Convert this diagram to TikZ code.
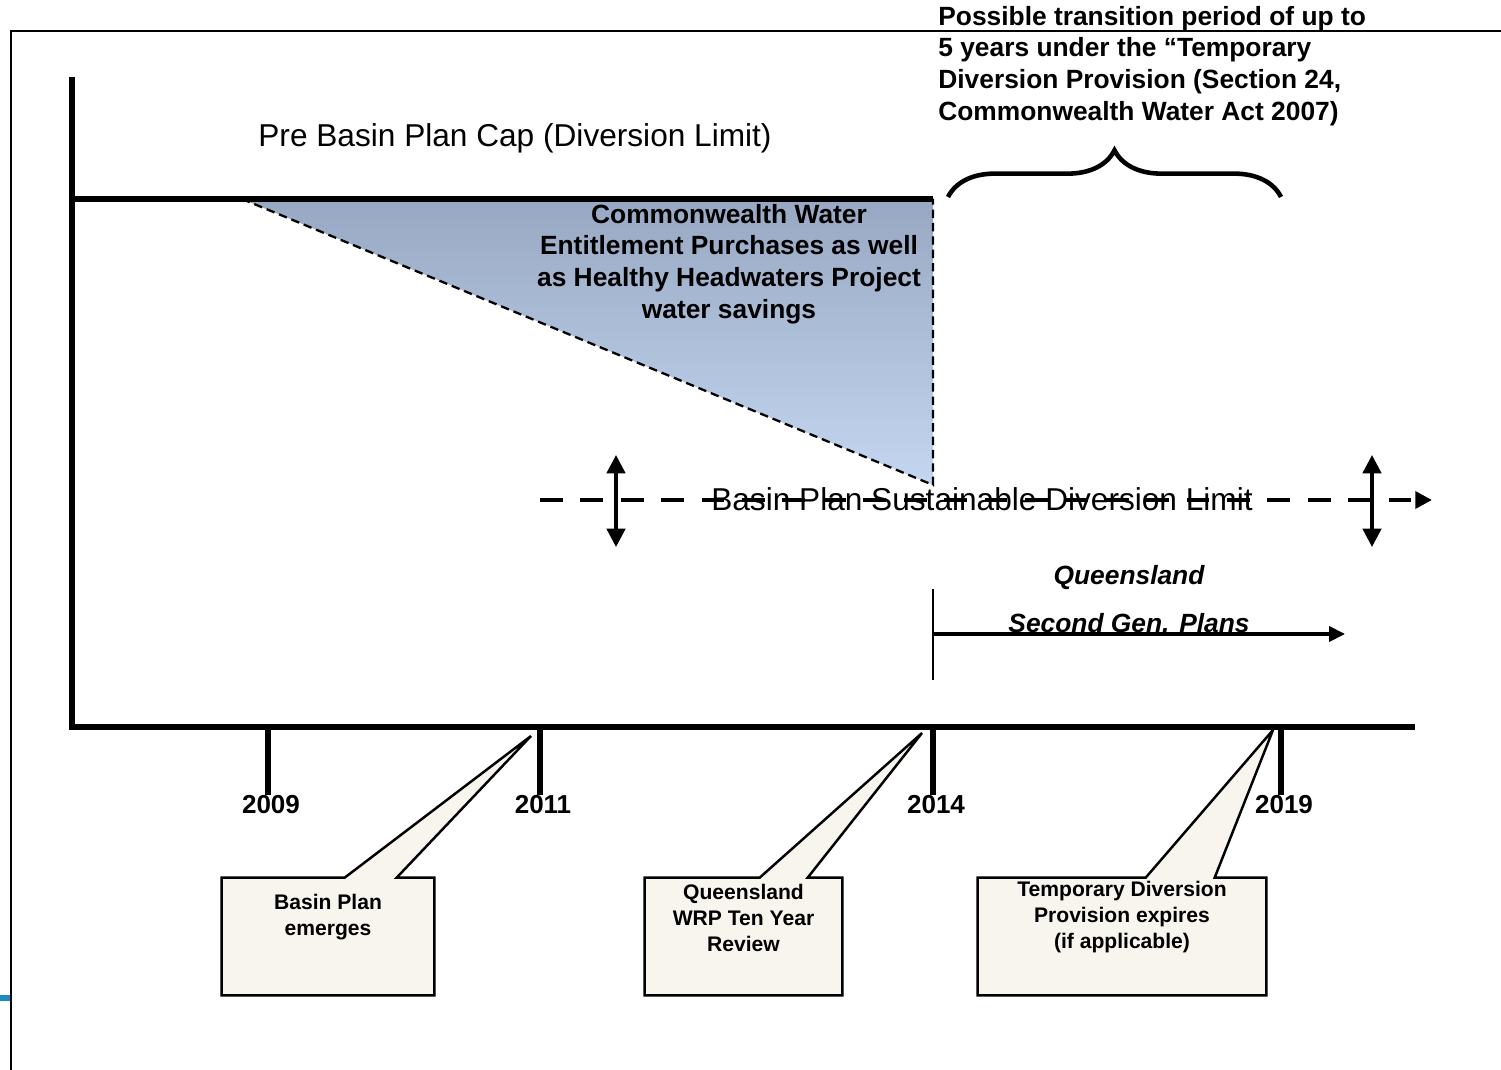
\documentclass[tikz,border=0pt]{standalone}
\usepackage{fontspec}
\setmainfont{Liberation Sans}
\definecolor{capgrey}{RGB}{152, 168, 195}
\definecolor{sdlblue}{RGB}{196, 214, 240}
\definecolor{notecream}{RGB}{247, 245, 237}
\definecolor{edgeblue}{RGB}{30, 140, 195}
\usepackage{tikz}
\usetikzlibrary{arrows.meta, positioning, calc, decorations.pathreplacing}

\begin{document}
\begin{tikzpicture}[x=0.02cm, y=-0.02cm,
    axisline/.style={line width=3.1pt},
    thinline/.style={line width=1.3pt},
    boldtext/.style={font=\bfseries\fontsize{15}{18.1}\selectfont, inner sep=0pt},
    qldtext/.style={font=\bfseries\itshape\fontsize{15}{18.1}\selectfont, inner sep=0pt, anchor=base},
    plaintext/.style={font=\fontsize{18}{22}\selectfont, inner sep=0pt},
    yearlabel/.style={font=\bfseries\fontsize{14.8}{17}\selectfont, inner sep=0pt, anchor=base},
    notebox/.style={minimum height=2.34cm, inner sep=0pt},
    noteline/.style={draw=black, line width=1.4pt, fill=notecream},
    notetext/.style={font=\bfseries\fontsize{12}{14.8}\selectfont, align=center, inner sep=0pt},
    updown/.style={line width=2pt, {Triangle[length=10.5pt,width=10.5pt]}-{Triangle[length=10.5pt,width=10.5pt]}}]
  \useasboundingbox (0,0) rectangle (1501,1070);

  % frame
  \draw[line width=1.1pt] (1501,31) -- (11,31) -- (11,1070);
  \fill[edgeblue] (0,995) rectangle (10,1001);

  % purchases wedge
  \coordinate (capstart) at (242,199);
  \coordinate (capend) at (933,199);
  \coordinate (sdlpoint) at (933,485);
  \shade[top color=capgrey, bottom color=sdlblue] (capstart) -- (capend) -- (sdlpoint) -- cycle;
  \draw[thinline, dash pattern=on 4.8pt off 2.8pt] (capstart) -- (sdlpoint) -- (capend);

  % axes
  \coordinate (origin) at (72,727);
  \draw[axisline] (72,77) -- (origin) -- (1415,727);
  \draw[axisline] (72,199) -- (capend);
  \foreach \yr/\xx in {2009/268, 2011/540, 2014/933, 2019/1281} {
    \coordinate (t\yr) at (\xx,727);
    \draw[axisline] (t\yr) -- ++(0,68);
    \node[yearlabel] (y\yr) at (\xx+3,813) {\yr};
  }

  \node[plaintext, anchor=base] (precap) at (515,147) {Pre Basin Plan Cap (Diversion Limit)};
  \node[boldtext, align=center] (purchases) at (729,264) {Commonwealth Water\\Entitlement Purchases as well\\as Healthy Headwaters Project\\water savings};
  \node[boldtext, align=left, anchor=west] (transition) at (938,66) {Possible transition period of up to\\5 years under the ``Temporary\\Diversion Provision (Section 24,\\Commonwealth Water Act 2007)};

  \coordinate (bracestart) at (948,197);
  \coordinate (braceend) at (1281,197);
  \draw[line width=2.6pt, decorate, decoration={brace, amplitude=26.6pt}] (bracestart) -- (braceend);

  % sustainable diversion limit
  \coordinate (sdlstart) at (540,500);
  \coordinate (sdlend) at (1432,500);
  \draw[line width=2.8pt, dash pattern=on 13pt off 10pt, -{Triangle[length=9.5pt,width=9.5pt]}] (sdlstart) -- (sdlend);
  \node[plaintext] (sdl) at (982,499) {Basin Plan Sustainable Diversion Limit};
  \draw[updown] (616,455) -- (616,547);
  \draw[updown] (1372,455) -- (1372,547);

  % second generation plans
  \coordinate (sgptop) at (933,589);
  \coordinate (sgpbottom) at (933,680);
  \coordinate (sgpstart) at (933,634);
  \coordinate (sgpend) at (1345,634);
  \draw[thinline] (sgptop) -- (sgpbottom);
  \node[qldtext] (qld) at (1129,585) {Queensland};
  \node[qldtext] (secondgen) at (1129,633) {Second Gen. Plans};
  \draw[line width=2pt, -{Triangle[length=9pt,width=8.5pt]}] (sgpstart) -- (sgpend);

  % callouts
  \coordinate (bptip) at (531,736);
  \node[notebox, minimum width=4.24cm] (bpbox) at (328,936.5) {};
  \draw[noteline] (bpbox.south west) -- (bpbox.north west) -- ++(123,0) -- (bptip) -- ($(bpbox.north west)+(175,0)$) -- (bpbox.north east) -- (bpbox.south east) -- cycle;
  \node[notetext] (bptext) at ($(bpbox)+(0,-19)$) {Basin Plan\\emerges};

  \coordinate (wrptip) at (922,733);
  \node[notebox, minimum width=3.94cm] (wrpbox) at (743.5,936.5) {};
  \draw[noteline] (wrpbox.south west) -- (wrpbox.north west) -- ++(115,0) -- (wrptip) -- ($(wrpbox.north west)+(163,0)$) -- (wrpbox.north east) -- (wrpbox.south east) -- cycle;
  \node[notetext] (wrptext) at ($(wrpbox)+(0,-19)$) {Queensland\\WRP Ten Year\\Review};

  \coordinate (tdptip) at (1273,730);
  \node[notebox, minimum width=5.76cm] (tdpbox) at (1122,936.5) {};
  \draw[noteline] (tdpbox.south west) -- (tdpbox.north west) -- ++(168,0) -- (tdptip) -- ($(tdpbox.north west)+(237,0)$) -- (tdpbox.north east) -- (tdpbox.south east) -- cycle;
  \node[notetext] (tdptext) at ($(tdpbox)+(0,-19)$) {Temporary Diversion\\Provision expires\\(if applicable)};
\end{tikzpicture}
\end{document}
